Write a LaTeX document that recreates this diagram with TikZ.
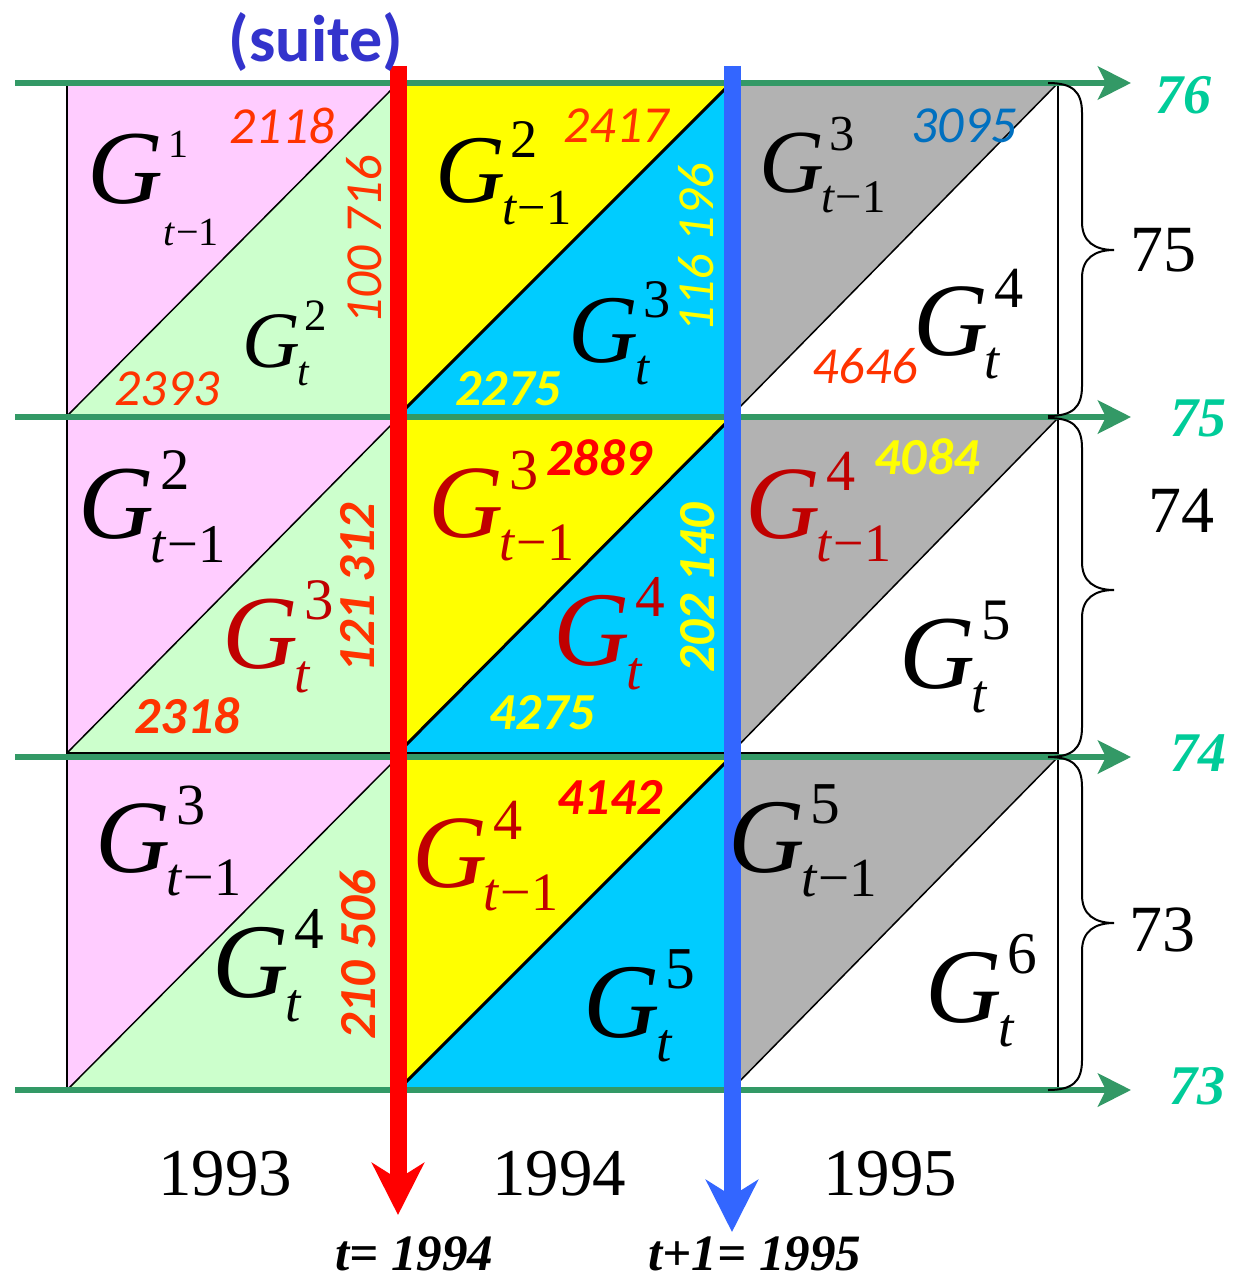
\documentclass[tikz,border=0pt]{standalone}
\usepackage{fontspec}
\setmainfont{Liberation Serif}
\newfontfamily\carl{Carlito}
\usetikzlibrary{arrows.meta}
\definecolor{pinkc}{HTML}{FFCCFF}
\definecolor{greenc}{HTML}{CCFFCC}
\definecolor{yellowc}{HTML}{FFFF00}
\definecolor{cyanc}{HTML}{00CCFF}
\definecolor{grayc}{HTML}{B2B2B2}
\definecolor{lineg}{HTML}{339966}
\definecolor{labg}{HTML}{00CC99}
\definecolor{redl}{HTML}{FF0000}
\definecolor{bluel}{HTML}{3366FF}
\definecolor{darkr}{HTML}{C00000}
\definecolor{numo}{HTML}{FF3300}
\definecolor{numy}{HTML}{FFFF00}
\definecolor{numb}{HTML}{0070C0}
\definecolor{suitec}{HTML}{3333CC}
\newcommand\fs[1]{\fontsize{#1}{#1}\selectfont}
\newcommand\tm{{\itshape t}\kern0.03em−1}
\newcommand\GL[3]{\fs{#1}\itshape G\upshape\rlap{\kern0.06em\raisebox{0.46em}{\fs{\fpeval{#1*0.56}}#2}}\kern-0.03em\raisebox{-0.23em}{\fs{\fpeval{#1*0.52}}#3}}
\tikzset{
  cellb/.style={draw=black, line width=1.5pt},
  garrow/.style={draw=lineg, line width=6pt, -{Stealth[length=33pt,width=33pt,inset=8pt]}},
  varrow/.style={line width=17pt, -{Stealth[length=52pt,width=52pt,inset=16pt]}},
  bracel/.style={draw=black, line width=2pt},
  glab/.style={anchor=base west, inner sep=0pt, outer sep=0pt},
  num/.style={inner sep=0pt, font=\carl\itshape\fs{52}},
  numbf/.style={inner sep=0pt, font=\carl\bfseries\itshape\fs{52}},
  glabel/.style={inner sep=0pt, text=labg, font=\bfseries\itshape\fs{56}},
  rlabel/.style={inner sep=0pt, font=\fs{66}},
  year/.style={inner sep=0pt, anchor=base, font=\fs{67}},
  tlab/.style={inner sep=0pt, anchor=base, font=\bfseries\itshape\fs{51}}
}
\begin{document}
\begin{tikzpicture}[x=1pt,y=-1pt]
\useasboundingbox (0,0) rectangle (1243,1279);
\fill[white] (0,0) rectangle (1243,1279);
% cells
\foreach \xa/\xb/\cu/\cl/\dw in {67/398/pinkc/greenc/1.5, 398/731/yellowc/cyanc/3, 731/1058/grayc/white/1.5} {
  \foreach \ya/\yb in {83/416, 418/753, 757/1090} {
    \fill[\cu] (\xa,\ya) -- (\xb,\ya) -- (\xa,\yb) -- cycle;
    \fill[\cl] (\xa,\yb) -- (\xb,\yb) -- (\xb,\ya) -- cycle;
    \draw[cellb] (\xa,\ya) rectangle (\xb,\yb);
    \draw[line width=\dw pt] (\xa,\yb) -- (\xb,\ya);
  }
}
% green time arrows
\coordinate (g0s) at (15,83);   \coordinate (g0e) at (1131,83);
\coordinate (g1s) at (15,417);  \coordinate (g1e) at (1131,417);
\coordinate (g2s) at (15,757);  \coordinate (g2e) at (1131,757);
\coordinate (g3s) at (15,1090); \coordinate (g3e) at (1131,1090);
\draw[garrow] (g0s) -- (g0e);
\draw[garrow] (g1s) -- (g1e);
\draw[garrow] (g2s) -- (g2e);
\draw[garrow] (g3s) -- (g3e);
% vertical arrows
\coordinate (rs) at (398,66); \coordinate (re) at (398,1215);
\coordinate (bs) at (732,66); \coordinate (be) at (732,1232);
\draw[varrow, draw=redl, fill=redl] (rs) -- (re);
\draw[varrow, draw=bluel, fill=bluel] (bs) -- (be);
% braces
\foreach \ya/\ym/\yb in {83/250/416, 418/590/757, 757/923/1090} {
  \draw[bracel] (1048,\ya) .. controls (1072,\ya) and (1082,\ya+8) .. (1082,\ya+30)
    -- (1082,\ym-28) .. controls (1082,\ym-8) and (1095,\ym) .. (1114,\ym)
    .. controls (1095,\ym) and (1082,\ym+8) .. (1082,\ym+28)
    -- (1082,\yb-30) .. controls (1082,\yb-8) and (1072,\yb) .. (1048,\yb);
}
% G labels
\node[glab] (g11u) at (87,203) {\fs{105}\itshape G\upshape\rlap{\kern0.05em\raisebox{46pt}{\fs{40}1}}\kern0.01em\raisebox{-42pt}{\fs{40}\tm}};
\node[glab] (g11l) at (242,367) {\GL{80}{2}{\itshape t}};
\node[glab] (g12u) at (435,202) {\GL{97}{2}{\tm}};
\node[glab] (g12l) at (568,362) {\GL{97}{3}{\itshape t}};
\node[glab] (g13u) at (759,192) {\GL{90}{3}{\tm}};
\node[glab] (g13l) at (913,355) {\GL{104}{4}{\itshape t}};
\node[glab] (g21u) at (78,538) {\GL{105}{2}{\tm}};
\node[glab, text=darkr] (g21l) at (222,668) {\GL{105}{3}{\itshape t}};
\node[glab, text=darkr] (g22u) at (428,537) {\GL{104}{3}{\tm}};
\node[glab, text=darkr] (g22l) at (553,665) {\GL{106}{4}{\itshape t}};
\node[glab, text=darkr] (g23u) at (745,538) {\GL{104}{4}{\tm}};
\node[glab] (g23l) at (899,688) {\GL{105}{5}{\itshape t}};
\node[glab] (g31u) at (95,872) {\GL{104}{3}{\tm}};
\node[glab] (g31l) at (212,997) {\GL{106}{4}{\itshape t}};
\node[glab, text=darkr] (g32u) at (412,887) {\GL{104}{4}{\tm}};
\node[glab] (g32l) at (583,1037) {\GL{106}{5}{\itshape t}};
\node[glab] (g33u) at (728,872) {\GL{106}{5}{\tm}};
\node[glab] (g33l) at (925,1022) {\GL{106}{6}{\itshape t}};
% numbers
\node[num, text=numo] (n2118) at (282,126) {2118};
\node[num, text=numo, rotate=90] (n100716) at (364,240) {100 716};
\node[num, text=numo] (n2393) at (167,389) {2393};
\node[num, text=numo] (n2417) at (616,126) {2417};
\node[num, text=numy, rotate=90] (n116196) at (696,248) {116 196};
\node[numbf, text=numy] (n2275) at (508,389) {2275};
\node[num, text=numb] (n3095) at (964,126) {3095};
\node[num, text=numo] (n4646) at (865,366) {4646};
\node[numbf, text=redl] (n2889) at (599,458) {2889};
\node[numbf, text=numo, rotate=90] (n121312) at (358,588) {121 312};
\node[numbf, text=numo] (n2318) at (187,716) {2318};
\node[numbf, text=numy, rotate=90] (n202140) at (698,588) {202 140};
\node[numbf, text=numy] (n4275) at (542,713) {4275};
\node[numbf, text=numy] (n4084) at (927,457) {4084};
\node[numbf, text=numo, rotate=90] (n210506) at (358,955) {210 506};
\node[numbf, text=redl] (n4142) at (610,797) {4142};
% right labels
\node[glabel] (l76) at (1183,95) {76};
\node[glabel] (l75) at (1198,418) {75};
\node[glabel] (l74) at (1198,753) {74};
\node[glabel] (l73) at (1197,1086) {73};
\node[rlabel] (b75) at (1163,250) {75};
\node[rlabel] (b74) at (1181,511) {74};
\node[rlabel] (b73) at (1162,930) {73};
% title and years
\node[inner sep=0pt, text=suitec, font=\carl\bfseries\fs{66}] (suite) at (316,42) {(suite)};
\node[year] (y93) at (225,1195) {1993};
\node[year] (y94) at (559,1195) {1994};
\node[year] (y95) at (890,1195) {1995};
\node[tlab] (t94) at (414,1270) {t= 1994};
\node[tlab] (t95) at (755,1270) {t+1= 1995};
\end{tikzpicture}
\end{document}
